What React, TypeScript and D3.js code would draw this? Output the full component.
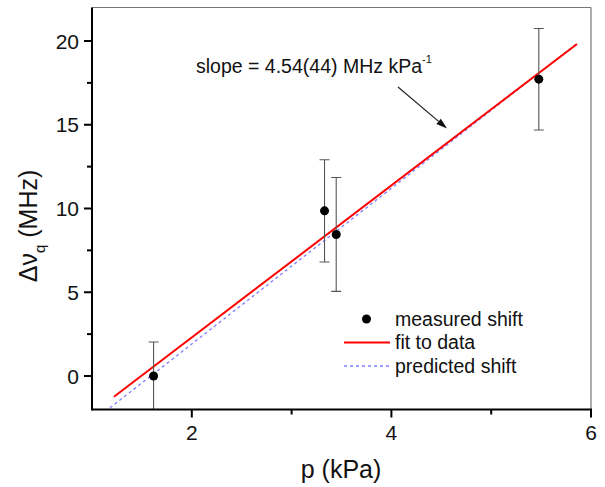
import React from "react";
import * as d3 from "d3";

const pressure = [1.617, 3.33, 3.447, 5.477];
const shift = [0, 9.86, 8.45, 17.72];
const shiftErr = [2.03, 3.05, 3.4, 3.03];

const fitX = [1.22, 5.86];
const fitY = [-1.24, 19.82];
const predX = [1.18, 5.86];
const predY = [-1.9, 19.86];

const xMajor = [2, 4, 6];
const xMinor = [3, 5];
const yMajor = [0, 5, 10, 15, 20];
const yMinor = [2.5, 7.5, 12.5, 17.5];

const legendItems = ["measured shift", "fit to data", "predicted shift"];

const W = 605;
const H = 487;
const FONT = "'Liberation Sans', Arial, Helvetica, sans-serif";

export default function App() {
  const x = d3.scaleLinear().domain([1, 6]).range([92, 591]);
  const y = d3.scaleLinear().domain([-2, 22]).range([409.5, 7.5]);
  const [x0, x1] = x.range();
  const [y0, y1] = y.range();

  const line = d3
    .line<[number, number]>()
    .x((d) => x(d[0]))
    .y((d) => y(d[1]));

  const fitPts: [number, number][] = fitX.map((v, i) => [v, fitY[i]]);
  const predPts: [number, number][] = predX.map((v, i) => [v, predY[i]]);

  // arrow
  const ax1 = 398, ay1 = 87, ax2 = 447, ay2 = 128.5;
  const ang = Math.atan2(ay2 - ay1, ax2 - ax1);
  const hl = 11, hw = 3.5;
  const bx = ax2 - hl * Math.cos(ang);
  const by = ax2 && ay2 - hl * Math.sin(ang);
  const px = -Math.sin(ang), py = Math.cos(ang);
  const head = `${ax2},${ay2} ${bx + hw * px},${by + hw * py} ${bx - hw * px},${by - hw * py}`;

  const legX = 344, legTextX = 395, legY0 = 319, legDy = 23.5;

  return (
    <svg
      width={W}
      height={H}
      style={{ position: "absolute", left: 0, top: 0, background: "#fff" }}
      fontFamily={FONT}
    >
      <defs>
        <clipPath id="plot">
          <rect x={x0} y={y1} width={x1 - x0} height={y0 - y1} />
        </clipPath>
      </defs>
      <rect width={W} height={H} fill="#fff" />

      {/* frame top/right */}
      <line x1={x0} x2={x1} y1={y1} y2={y1} stroke="#777" strokeWidth={1.2} />
      <line x1={x1} x2={x1} y1={y1} y2={y0} stroke="#777" strokeWidth={1.2} />

      {/* lines */}
      <g clipPath="url(#plot)">
        <path d={line(predPts) || ""} fill="none" stroke="#7d7dff" strokeWidth={1.3} strokeDasharray="3,3" />
        <path d={line(fitPts) || ""} fill="none" stroke="#ff0000" strokeWidth={2} />
        {pressure.map((p, i) => {
          const cx = x(p);
          const top = y(shift[i] + shiftErr[i]);
          const bot = y(shift[i] - shiftErr[i]);
          return (
            <g key={i} stroke="#555" strokeWidth={1.1}>
              <line x1={cx} x2={cx} y1={top} y2={bot} />
              <line x1={cx - 5} x2={cx + 5} y1={top} y2={top} />
              <line x1={cx - 5} x2={cx + 5} y1={bot} y2={bot} />
            </g>
          );
        })}
        {pressure.map((p, i) => (
          <circle key={i} cx={x(p)} cy={y(shift[i])} r={4.5} fill="#000" />
        ))}
      </g>

      {/* axes */}
      <line x1={x0} x2={x1 + 1} y1={y0} y2={y0} stroke="#000" strokeWidth={2} />
      <line x1={x0} x2={x0} y1={y1} y2={y0 + 1} stroke="#000" strokeWidth={2} />

      {xMajor.map((t) => (
        <g key={"xm" + t}>
          <line x1={x(t)} x2={x(t)} y1={y0} y2={y0 + 8} stroke="#000" strokeWidth={2} />
          <text x={x(t)} y={440} fontSize={21} textAnchor="middle" fill="#111">
            {t}
          </text>
        </g>
      ))}
      {xMinor.map((t) => (
        <line key={"xn" + t} x1={x(t)} x2={x(t)} y1={y0} y2={y0 + 5} stroke="#000" strokeWidth={2} />
      ))}
      {yMajor.map((t) => (
        <g key={"ym" + t}>
          <line x1={x0 - 8} x2={x0} y1={y(t)} y2={y(t)} stroke="#000" strokeWidth={2} />
          <text x={79} y={y(t) + 7.5} fontSize={21} textAnchor="end" fill="#111">
            {t}
          </text>
        </g>
      ))}
      {yMinor.map((t) => (
        <line key={"yn" + t} x1={x0 - 5} x2={x0} y1={y(t)} y2={y(t)} stroke="#000" strokeWidth={2} />
      ))}

      {/* axis titles */}
      <text x={341} y={478} fontSize={25} textAnchor="middle" fill="#111">
        p (kPa)
      </text>
      <text transform="translate(37,226) rotate(-90)" fontSize={25} textAnchor="middle" fill="#111">
        Δν
        <tspan fontSize={15} dy={8}>q</tspan>
        <tspan dy={-8}> (MHz)</tspan>
      </text>

      {/* annotation */}
      <text x={196} y={73} fontSize={19.5} fill="#111">
        slope = 4.54(44) MHz kPa
        <tspan fontSize={11} dy={-10}>-1</tspan>
      </text>
      <line x1={ax1} y1={ay1} x2={bx} y2={by} stroke="#222" strokeWidth={1.2} />
      <polygon points={head} fill="#111" />

      {/* legend */}
      <circle cx={366.5} cy={legY0} r={4.5} fill="#000" />
      <line x1={legX} x2={390} y1={legY0 + legDy} y2={legY0 + legDy} stroke="#ff0000" strokeWidth={2} />
      <line x1={legX} x2={390} y1={legY0 + 2 * legDy} y2={legY0 + 2 * legDy} stroke="#7d7dff" strokeWidth={1.3} strokeDasharray="3,3" />
      {legendItems.map((s, i) => (
        <text key={s} x={legTextX} y={legY0 + i * legDy + 6.5} fontSize={19.5} fill="#111">
          {s}
        </text>
      ))}
    </svg>
  );
}
